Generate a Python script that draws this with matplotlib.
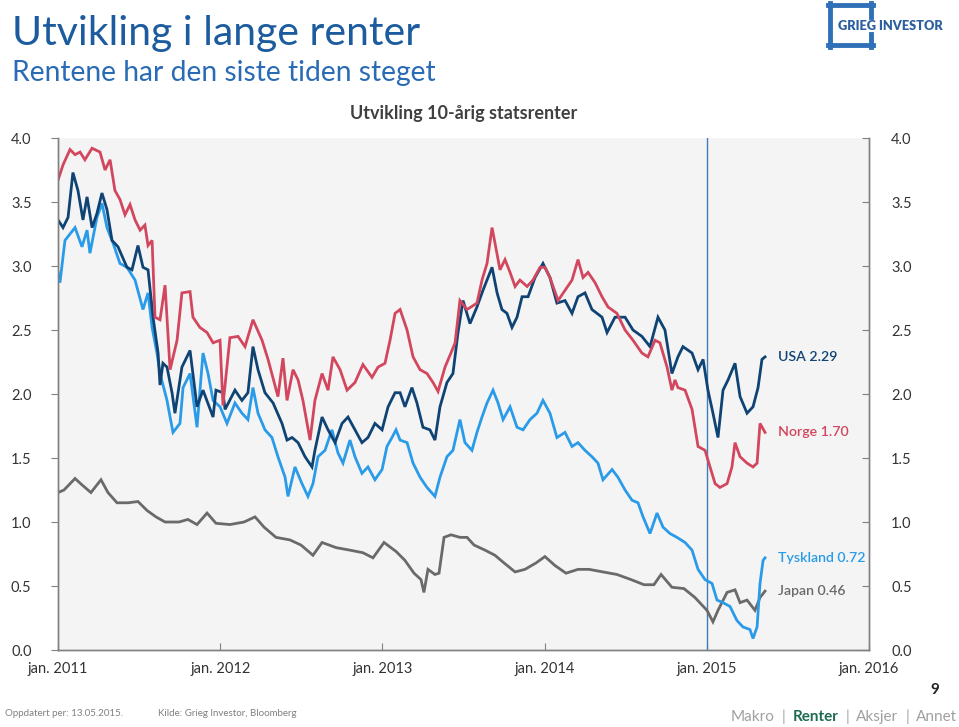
import matplotlib
matplotlib.use("Agg")
import matplotlib.pyplot as plt
from matplotlib.lines import Line2D

plt.rcParams['font.family'] = ['Lato', 'DejaVu Sans']

# ---------------- data (decimal year, yield %) ----------------
norge_t = [2011.000, 2011.031, 2011.074, 2011.105, 2011.136, 2011.166, 2011.210, 2011.259, 2011.290, 2011.321,
           2011.351, 2011.382, 2011.413, 2011.444, 2011.475, 2011.506, 2011.536, 2011.555, 2011.580, 2011.598,
           2011.629, 2011.660, 2011.691, 2011.734, 2011.764, 2011.814, 2011.832, 2011.875, 2011.919, 2011.956,
           2011.999, 2012.017, 2012.060, 2012.110, 2012.153, 2012.202, 2012.258, 2012.295, 2012.356, 2012.387,
           2012.412, 2012.449, 2012.480, 2012.510, 2012.554, 2012.584, 2012.628, 2012.665, 2012.695, 2012.739,
           2012.782, 2012.831, 2012.880, 2012.936, 2012.973, 2013.016, 2013.047, 2013.078, 2013.109, 2013.152,
           2013.189, 2013.232, 2013.275, 2013.312, 2013.343, 2013.386, 2013.429, 2013.448, 2013.478, 2013.522,
           2013.583, 2013.614, 2013.645, 2013.676, 2013.694, 2013.725, 2013.756, 2013.787, 2013.818, 2013.848,
           2013.892, 2013.928, 2013.972, 2014.002, 2014.033, 2014.083, 2014.126, 2014.169, 2014.206, 2014.237,
           2014.268, 2014.311, 2014.354, 2014.391, 2014.446, 2014.496, 2014.545, 2014.600, 2014.637, 2014.681,
           2014.711, 2014.755, 2014.785, 2014.804, 2014.822, 2014.866, 2014.909, 2014.946, 2014.989, 2015.020,
           2015.051, 2015.081, 2015.125, 2015.155, 2015.174, 2015.205, 2015.248, 2015.285, 2015.310, 2015.328,
           2015.359]
norge_v = [3.67, 3.79, 3.91, 3.87, 3.89, 3.83, 3.92, 3.89, 3.75, 3.83,
           3.59, 3.52, 3.40, 3.48, 3.36, 3.28, 3.32, 3.16, 3.20, 2.60,
           2.58, 2.85, 2.19, 2.42, 2.79, 2.80, 2.60, 2.52, 2.48, 2.40,
           2.42, 1.91, 2.44, 2.45, 2.37, 2.58, 2.42, 2.27, 1.98, 2.28,
           1.95, 2.19, 2.11, 1.95, 1.64, 1.95, 2.16, 2.03, 2.29, 2.19,
           2.03, 2.09, 2.23, 2.13, 2.21, 2.24, 2.42, 2.63, 2.66, 2.50,
           2.29, 2.19, 2.16, 2.09, 2.02, 2.21, 2.34, 2.40, 2.73, 2.66,
           2.71, 2.89, 3.02, 3.30, 3.18, 2.97, 3.05, 2.95, 2.84, 2.89,
           2.84, 2.89, 2.99, 2.99, 2.91, 2.73, 2.81, 2.89, 3.05, 2.91,
           2.95, 2.87, 2.76, 2.68, 2.63, 2.50, 2.42, 2.32, 2.29, 2.42,
           2.40, 2.21, 2.03, 2.11, 2.05, 2.03, 1.88, 1.59, 1.56, 1.43,
           1.30, 1.27, 1.30, 1.43, 1.62, 1.51, 1.46, 1.43, 1.46, 1.77,
           1.70]

usa_t = [2011.000, 2011.031, 2011.062, 2011.092, 2011.123, 2011.154, 2011.179, 2011.210, 2011.240, 2011.271,
         2011.302, 2011.333, 2011.370, 2011.425, 2011.456, 2011.493, 2011.524, 2011.555, 2011.586, 2011.617,
         2011.629, 2011.647, 2011.672, 2011.703, 2011.721, 2011.764, 2011.814, 2011.857, 2011.894, 2011.956,
         2011.974, 2012.017, 2012.030, 2012.091, 2012.134, 2012.171, 2012.202, 2012.233, 2012.276, 2012.326,
         2012.381, 2012.412, 2012.443, 2012.480, 2012.523, 2012.566, 2012.584, 2012.628, 2012.665, 2012.708,
         2012.751, 2012.788, 2012.831, 2012.874, 2012.911, 2012.954, 2012.998, 2013.035, 2013.078, 2013.109,
         2013.139, 2013.182, 2013.213, 2013.250, 2013.293, 2013.324, 2013.355, 2013.398, 2013.435, 2013.466,
         2013.497, 2013.540, 2013.583, 2013.620, 2013.651, 2013.676, 2013.707, 2013.737, 2013.768, 2013.799,
         2013.830, 2013.861, 2013.898, 2013.941, 2013.990, 2014.033, 2014.076, 2014.126, 2014.169, 2014.206,
         2014.249, 2014.292, 2014.354, 2014.385, 2014.434, 2014.496, 2014.545, 2014.600, 2014.650, 2014.699,
         2014.742, 2014.785, 2014.822, 2014.853, 2014.909, 2014.946, 2014.977, 2015.007, 2015.038, 2015.069,
         2015.100, 2015.131, 2015.174, 2015.205, 2015.248, 2015.285, 2015.316, 2015.340, 2015.359]
usa_v = [3.36, 3.30, 3.38, 3.73, 3.59, 3.36, 3.54, 3.30, 3.41, 3.57,
         3.44, 3.20, 3.15, 2.99, 2.97, 3.16, 2.99, 2.97, 2.60, 2.32,
         2.07, 2.24, 2.21, 2.01, 1.85, 2.21, 2.34, 1.90, 2.03, 1.82,
         2.03, 2.01, 1.88, 2.03, 1.95, 2.01, 2.37, 2.19, 2.01, 1.93,
         1.77, 1.64, 1.66, 1.62, 1.51, 1.43, 1.56, 1.82, 1.72, 1.62,
         1.77, 1.82, 1.72, 1.62, 1.66, 1.77, 1.72, 1.90, 2.01, 2.01,
         1.90, 2.05, 1.93, 1.74, 1.72, 1.64, 1.90, 2.09, 2.16, 2.48,
         2.73, 2.55, 2.68, 2.81, 2.91, 2.99, 2.79, 2.66, 2.63, 2.52,
         2.60, 2.76, 2.76, 2.91, 3.02, 2.91, 2.71, 2.73, 2.63, 2.76,
         2.79, 2.66, 2.60, 2.48, 2.60, 2.60, 2.50, 2.45, 2.37, 2.60,
         2.50, 2.16, 2.29, 2.37, 2.32, 2.19, 2.27, 2.03, 1.85, 1.66,
         2.03, 2.11, 2.24, 1.98, 1.85, 1.90, 2.05, 2.27, 2.29]

tyskland_t = [2011.000, 2011.012, 2011.043, 2011.105, 2011.148, 2011.179, 2011.197, 2011.240, 2011.271, 2011.302,
              2011.339, 2011.382, 2011.425, 2011.475, 2011.524, 2011.555, 2011.580, 2011.610, 2011.629, 2011.672,
              2011.691, 2011.709, 2011.752, 2011.771, 2011.814, 2011.857, 2011.894, 2011.925, 2011.956, 2011.999,
              2012.042, 2012.091, 2012.134, 2012.171, 2012.202, 2012.233, 2012.276, 2012.319, 2012.356, 2012.400,
              2012.418, 2012.461, 2012.504, 2012.541, 2012.572, 2012.603, 2012.646, 2012.689, 2012.726, 2012.757,
              2012.800, 2012.831, 2012.874, 2012.911, 2012.954, 2012.998, 2013.028, 2013.059, 2013.084, 2013.109,
              2013.152, 2013.189, 2013.232, 2013.275, 2013.324, 2013.355, 2013.398, 2013.435, 2013.478, 2013.509,
              2013.552, 2013.583, 2013.614, 2013.645, 2013.682, 2013.713, 2013.744, 2013.787, 2013.830, 2013.867,
              2013.910, 2013.953, 2013.990, 2014.033, 2014.076, 2014.126, 2014.169, 2014.206, 2014.249, 2014.292,
              2014.329, 2014.360, 2014.416, 2014.452, 2014.496, 2014.539, 2014.576, 2014.607, 2014.650, 2014.693,
              2014.730, 2014.773, 2014.816, 2014.866, 2014.909, 2014.946, 2014.989, 2015.032, 2015.063, 2015.100,
              2015.143, 2015.186, 2015.223, 2015.266, 2015.285, 2015.310, 2015.328, 2015.347, 2015.359]
tyskland_v = [2.95, 2.87, 3.20, 3.30, 3.15, 3.28, 3.10, 3.38, 3.49, 3.30,
              3.18, 3.02, 2.99, 2.89, 2.66, 2.79, 2.52, 2.32, 2.16, 1.95,
              1.82, 1.70, 1.77, 2.05, 2.16, 1.74, 2.32, 2.16, 1.95, 1.90,
              1.77, 1.93, 1.85, 1.80, 2.05, 1.85, 1.72, 1.66, 1.51, 1.35,
              1.20, 1.43, 1.30, 1.20, 1.30, 1.51, 1.56, 1.72, 1.54, 1.46,
              1.64, 1.51, 1.38, 1.43, 1.33, 1.41, 1.59, 1.66, 1.72, 1.64,
              1.62, 1.46, 1.35, 1.27, 1.20, 1.35, 1.51, 1.56, 1.80, 1.62,
              1.56, 1.70, 1.82, 1.93, 2.03, 1.93, 1.80, 1.90, 1.74, 1.72,
              1.80, 1.85, 1.95, 1.85, 1.66, 1.70, 1.59, 1.62, 1.56, 1.51,
              1.46, 1.33, 1.41, 1.35, 1.25, 1.17, 1.15, 1.04, 0.91, 1.07,
              0.96, 0.91, 0.88, 0.84, 0.78, 0.63, 0.55, 0.52, 0.39, 0.37,
              0.34, 0.23, 0.18, 0.16, 0.09, 0.18, 0.52, 0.70, 0.72]

japan_t = [2011.000, 2011.037, 2011.105, 2011.148, 2011.203, 2011.265, 2011.308, 2011.364, 2011.432, 2011.493,
           2011.549, 2011.604, 2011.660, 2011.746, 2011.801, 2011.857, 2011.919, 2011.974, 2012.060, 2012.147,
           2012.215, 2012.270, 2012.344, 2012.430, 2012.498, 2012.572, 2012.628, 2012.714, 2012.800, 2012.880,
           2012.942, 2013.010, 2013.084, 2013.139, 2013.195, 2013.238, 2013.256, 2013.281, 2013.324, 2013.349,
           2013.380, 2013.423, 2013.478, 2013.522, 2013.565, 2013.633, 2013.694, 2013.750, 2013.818, 2013.879,
           2013.947, 2014.002, 2014.064, 2014.132, 2014.206, 2014.274, 2014.360, 2014.446, 2014.533, 2014.613,
           2014.674, 2014.718, 2014.785, 2014.859, 2014.927, 2015.001, 2015.038, 2015.069, 2015.125, 2015.174,
           2015.205, 2015.248, 2015.297, 2015.328, 2015.359]
japan_v = [1.23, 1.25, 1.34, 1.29, 1.23, 1.33, 1.23, 1.15, 1.15, 1.16,
           1.09, 1.04, 1.00, 1.00, 1.02, 0.98, 1.07, 0.99, 0.98, 1.00,
           1.04, 0.96, 0.88, 0.86, 0.82, 0.74, 0.84, 0.80, 0.78, 0.76,
           0.72, 0.84, 0.77, 0.70, 0.60, 0.55, 0.45, 0.63, 0.59, 0.60,
           0.88, 0.90, 0.88, 0.88, 0.82, 0.78, 0.74, 0.68, 0.61, 0.63,
           0.68, 0.73, 0.66, 0.60, 0.63, 0.63, 0.61, 0.59, 0.55, 0.51,
           0.51, 0.59, 0.49, 0.48, 0.41, 0.31, 0.22, 0.31, 0.45, 0.47,
           0.37, 0.39, 0.31, 0.41, 0.46]

series_names = ["USA", "Norge", "Tyskland", "Japan"]
last_values = ["2.29", "1.70", "0.72", "0.46"]
colors = {"USA": "#0E4374", "Norge": "#D2475E", "Tyskland": "#2A9BE8", "Japan": "#6A6A6A"}

year_ticks = [2011, 2012, 2013, 2014, 2015, 2016]
year_labels = ["jan. 2011", "jan. 2012", "jan. 2013", "jan. 2014", "jan. 2015", "jan. 2016"]
y_ticks = [0.0, 0.5, 1.0, 1.5, 2.0, 2.5, 3.0, 3.5, 4.0]
marker_line = 2015.0

# ---------------- figure ----------------
W, H = 959, 727
fig = plt.figure(figsize=(W / 100, H / 100), dpi=100)
fig.patch.set_facecolor("white")

ax = fig.add_axes([58 / W, 1 - 650 / H, (869 - 58) / W, (650 - 138) / H])
ax.set_facecolor("#F4F4F4")

data = {"USA": (usa_t, usa_v), "Norge": (norge_t, norge_v),
        "Tyskland": (tyskland_t, tyskland_v), "Japan": (japan_t, japan_v)}
for name in ["Japan", "Tyskland", "USA", "Norge"]:
    t, v = data[name]
    ax.plot(t, v, color=colors[name], lw=2.0, solid_joinstyle="miter", zorder=3)

ax.axvline(marker_line, color="#3F7DB5", lw=1.0, zorder=2)

ax.set_xlim(2011, 2016)
ax.set_ylim(0, 4)
ax.set_xticks(year_ticks)
ax.set_xticklabels(year_labels, fontsize=10.5, color="#333333")
ax.set_yticks(y_ticks)
ax.set_yticklabels([f"{y:.1f}" for y in y_ticks], fontsize=10.5, color="#333333")
ax.tick_params(axis="x", direction="in", length=5, color="#808080", pad=9)
ax.tick_params(axis="y", direction="out", length=5, color="#808080", pad=14)

ax2 = ax.twinx()
ax2.set_ylim(0, 4)
ax2.set_yticks(y_ticks)
ax2.set_yticklabels([f"{y:.1f}" for y in y_ticks], fontsize=10.5, color="#333333")
ax2.tick_params(axis="y", direction="in", length=5, color="#808080", pad=16)

for a in (ax, ax2):
    a.spines["top"].set_visible(False)
    for s in ("left", "right", "bottom"):
        a.spines[s].set_color("#808080")
        a.spines[s].set_linewidth(1.0)

# end labels
label_y = {"USA": 2.29, "Norge": 1.70, "Tyskland": 0.72, "Japan": 0.46}
for name, lv in zip(series_names, last_values):
    ax.text(2015.44, label_y[name], f"{name} {lv}", color=colors[name], fontsize=10.2,
            fontweight="semibold", va="center", ha="left", zorder=5)

ax.set_title("Utvikling 10-årig statsrenter", fontsize=13, fontweight="bold",
             color="#404040", pad=14)

# ---------------- page decorations ----------------
ov = fig.add_axes([0, 0, 1, 1], zorder=-1)
ov.set_xlim(0, W)
ov.set_ylim(H, 0)
ov.axis("off")

ov.text(12, 34, "Utvikling i lange renter", fontsize=29.5, color="#1C5C9E", va="center", ha="left")
ov.text(12, 73, "Rentene har den siste tiden steget", fontsize=20.3, color="#2A6BB5", va="center", ha="left")

# logo
lc = "#2F70B8"
ov.add_line(Line2D([830, 830], [3, 47], color=lc, lw=3.5))
ov.add_line(Line2D([828, 873], [5, 5], color=lc, lw=3.5))
ov.add_line(Line2D([828, 873], [45, 45], color=lc, lw=3.5))
ov.add_line(Line2D([871, 871], [3, 17], color=lc, lw=3.5))
ov.add_line(Line2D([871, 871], [34, 47], color=lc, lw=3.5))
ov.text(838, 26, "GRIEG INVESTOR", fontsize=9.2, fontweight="heavy", color="#2B5F9E",
        va="center", ha="left")

ov.text(935, 690, "9", fontsize=11, fontweight="bold", color="#222222", ha="center", va="center")
ov.text(5, 714, "Oppdatert per: 13.05.2015.", fontsize=7, color="#808080", va="center", ha="left")
ov.text(158, 713, "Kilde: Grieg Investor, Bloomberg", fontsize=7, color="#808080", va="center", ha="left")

# navigation, laid out right-to-left so it ends at the right page edge
nav = [("Makro", "#A0A0A0", "normal"), ("|", "#A0A0A0", "normal"),
       ("Renter", "#1E6B52", "bold"), ("|", "#A0A0A0", "normal"),
       ("Aksjer", "#A0A0A0", "normal"), ("|", "#A0A0A0", "normal"),
       ("Annet", "#A0A0A0", "normal")]
fig.canvas.draw()
renderer = fig.canvas.get_renderer()
x_right = 957
gap = 7
for txt, c, w in reversed(nav):
    t_ = ov.text(x_right, 717, txt, fontsize=11, color=c, fontweight=w, va="center", ha="right")
    bb = t_.get_window_extent(renderer=renderer)
    x_right -= bb.width + gap

fig.savefig("out.png", dpi=100)
